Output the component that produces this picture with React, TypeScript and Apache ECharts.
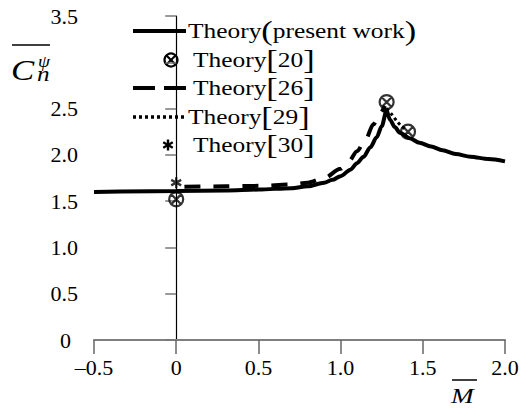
import React, { useEffect, useRef } from "react";
import * as echarts from "echarts";

// ---- data ----
const solidM = [-0.5, 0, 0.3, 0.5, 0.7, 0.8, 0.9, 0.95, 1.0, 1.06, 1.1, 1.14, 1.18, 1.22, 1.25, 1.28, 1.3, 1.33, 1.36, 1.42, 1.48, 1.55, 1.62, 1.7, 1.79, 1.9, 2.0];
const solidV = [1.6, 1.61, 1.615, 1.625, 1.64, 1.66, 1.7, 1.73, 1.77, 1.84, 1.91, 1.98, 2.08, 2.19, 2.31, 2.48, 2.38, 2.3, 2.24, 2.18, 2.13, 2.09, 2.05, 2.01, 1.98, 1.955, 1.93];

const dashedM = [0.05, 0.3, 0.5, 0.7, 0.8, 0.9, 1.0, 1.05, 1.1, 1.15, 1.2, 1.24, 1.27];
const dashedV = [1.655, 1.66, 1.665, 1.68, 1.7, 1.75, 1.85, 1.93, 2.04, 2.16, 2.33, 2.45, 2.53];

const dottedM = [1.28, 1.31, 1.34, 1.37, 1.4];
const dottedV = [2.5, 2.44, 2.37, 2.31, 2.27];

const ref20M = [0, 1.28, 1.41];
const ref20V = [1.52, 2.57, 2.25];

const ref30M = [0];
const ref30V = [1.7];

const xTickLabels = ["–0.5", "0", "0.5", "1.0", "1.5", "2.0"];
const yTickLabels = ["0", "0.5", "1.0", "1.5", "2.0", "2.5", "", "3.5"];

const legendNames = ["Theory(present work)", "Theory[20]", "Theory[26]", "Theory[29]", "Theory[30]"];

const zip = (a: number[], b: number[]) => a.map((v, i) => [v, b[i]]);

const FONT = "Liberation Serif";

const otimesPath =
  "path://M0,-7A7,7,0,1,1,0,7A7,7,0,1,1,0,-7ZM-4.9,-4.9L4.9,4.9M4.9,-4.9L-4.9,4.9";
const starPath = "path://M0,-5L0,5M-4.33,-2.5L4.33,2.5M-4.33,2.5L4.33,-2.5";

function legendText(x: number, y: number, name: string) {
  let rich = "";
  if (name.indexOf("(") >= 0) {
    const m = name.match(/^(.*)\((.*)\)$/)!;
    rich = `{t|${m[1]}}{b|(}{t|${m[2]}}{b|)}`;
  } else {
    const m = name.match(/^(.*)\[(.*)\]$/)!;
    rich = `{t|${m[1]}}{b|[}{t|${m[2]}}{b|]}`;
  }
  return {
    type: "text",
    x,
    y,
    scaleX: 1.27,
    style: {
      text: rich,
      fill: "#000",
      fontFamily: FONT,
      fontSize: 20,
      verticalAlign: "middle",
      align: "left",
      rich: {
        t: { fontSize: 20, fontFamily: FONT, fill: "#000" },
        b: { fontSize: 27, fontFamily: FONT, fill: "#000" },
      },
    },
  };
}

function star(cx: number, cy: number, r: number) {
  const a = r * 0.866;
  const b = r * 0.5;
  const st = { stroke: "#000", lineWidth: 2.4 };
  return [
    { type: "line", shape: { x1: cx, y1: cy - r, x2: cx, y2: cy + r }, style: st },
    { type: "line", shape: { x1: cx - a, y1: cy - b, x2: cx + a, y2: cy + b }, style: st },
    { type: "line", shape: { x1: cx - a, y1: cy + b, x2: cx + a, y2: cy - b }, style: st },
  ];
}

export default function App() {
  const ref = useRef<HTMLDivElement>(null);
  useEffect(() => {
    if (!ref.current) return;
    const chart = echarts.init(ref.current, undefined, { renderer: "svg" });
    const rows = [31, 60, 88, 117, 145];
    const graphic: any[] = [
      // legend
      { type: "line", shape: { x1: 133, y1: rows[0], x2: 186, y2: rows[0] }, style: { stroke: "#000", lineWidth: 4 } },
      legendText(188, rows[0], legendNames[0]),
      { type: "circle", shape: { cx: 171, cy: rows[1], r: 6.5 }, style: { stroke: "#000", lineWidth: 2.2, fill: "none" } },
      { type: "line", shape: { x1: 166.5, y1: rows[1] - 4.5, x2: 175.5, y2: rows[1] + 4.5 }, style: { stroke: "#000", lineWidth: 2.2 } },
      { type: "line", shape: { x1: 175.5, y1: rows[1] - 4.5, x2: 166.5, y2: rows[1] + 4.5 }, style: { stroke: "#000", lineWidth: 2.2 } },
      legendText(193, rows[1], legendNames[1]),
      { type: "line", shape: { x1: 133, y1: rows[2], x2: 186, y2: rows[2] }, style: { stroke: "#000", lineWidth: 4, lineDash: [22, 9] } },
      legendText(193, rows[2], legendNames[2]),
      { type: "line", shape: { x1: 133, y1: rows[3], x2: 187, y2: rows[3] }, style: { stroke: "#000", lineWidth: 3.5, lineDash: [3, 3] } },
      legendText(188, rows[3], legendNames[3]),
      ...star(168, rows[4], 5.5),
      legendText(193, rows[4], legendNames[4]),
      // y axis name
      { type: "line", shape: { x1: 12, y1: 45, x2: 50, y2: 45 }, style: { stroke: "#000", lineWidth: 1.5 } },
      { type: "text", x: 11, y: 70, scaleX: 1.2, style: { text: "C", fontFamily: FONT, fontStyle: "italic", fontSize: 29, fill: "#000", verticalAlign: "middle" } },
      { type: "text", x: 38, y: 62, scaleX: 1.2, style: { text: "ψ", fontFamily: FONT, fontStyle: "italic", fontSize: 16, fill: "#000", verticalAlign: "middle" } },
      { type: "text", x: 37, y: 74, scaleX: 1.2, style: { text: "n", fontFamily: FONT, fontStyle: "italic", fontSize: 21, fill: "#000", verticalAlign: "middle" } },
      // x axis name
      { type: "line", shape: { x1: 452, y1: 380, x2: 477, y2: 380 }, style: { stroke: "#000", lineWidth: 1.5 } },
      { type: "text", x: 451, y: 396, scaleX: 1.3, style: { text: "M", fontFamily: FONT, fontStyle: "italic", fontSize: 21, fill: "#000", verticalAlign: "middle" } },
    ];

    chart.setOption({
      animation: false,
      backgroundColor: "#fff",
      textStyle: { fontFamily: FONT },
      grid: { left: 94, right: 18, top: 16, bottom: 68, containLabel: false },
      xAxis: {
        type: "value",
        min: -0.5,
        max: 2.0,
        interval: 0.5,
        splitLine: { show: false },
        axisLine: { show: true, onZero: false, lineStyle: { color: "#7f7f7f", width: 2 } },
        axisTick: { show: true, inside: false, length: 14, lineStyle: { color: "#666", width: 1.5 } },
        axisLabel: {
          margin: 16,
          color: "#000",
          fontFamily: FONT,
          fontSize: 22,
          formatter: (v: number) => {
            const i = Math.round((v + 0.5) / 0.5);
            return xTickLabels[i] ?? "";
          },
        },
      },
      yAxis: {
        type: "value",
        min: 0,
        max: 3.5,
        interval: 0.5,
        splitLine: { show: false },
        axisLine: { show: true, lineStyle: { color: "#000", width: 1.2 } },
        axisTick: { show: true, inside: false, length: 11, lineStyle: { color: "#777", width: 1.5 } },
        axisLabel: {
          margin: 16,
          color: "#000",
          fontFamily: FONT,
          fontSize: 22,
          formatter: (v: number) => {
            const i = Math.round(v / 0.5);
            const s = yTickLabels[i] ?? "";
            return i === 0 ? "{z|" + s + "}" : s;
          },
          rich: { z: { padding: [0, 7, 0, 0], fontFamily: FONT, fontSize: 22, color: "#000" } },
        },
      },
      series: [
        {
          name: legendNames[0],
          type: "line",
          data: zip(solidM, solidV),
          showSymbol: false,
          smooth: 0.3,
          smoothMonotone: "x",
          lineStyle: { color: "#000", width: 4 },
          z: 3,
        },
        {
          name: legendNames[2],
          type: "line",
          data: zip(dashedM, dashedV),
          showSymbol: false,
          smooth: 0.3,
          smoothMonotone: "x",
          lineStyle: { color: "#000", width: 4, type: [16, 13] },
          z: 2,
        },
        {
          name: legendNames[3],
          type: "line",
          data: zip(dottedM, dottedV),
          showSymbol: false,
          smooth: 0.3,
          lineStyle: { color: "#000", width: 3, type: [3, 3] },
          z: 2,
        },
        {
          name: legendNames[1],
          type: "scatter",
          data: zip(ref20M, ref20V),
          symbol: otimesPath,
          symbolSize: 14,
          itemStyle: { color: "rgba(0,0,0,0)", borderColor: "#000", borderWidth: 2.2 },
          z: 4,
        },
        {
          name: legendNames[4],
          type: "scatter",
          data: zip(ref30M, ref30V),
          symbol: starPath,
          symbolSize: [10, 11],
          itemStyle: { color: "rgba(0,0,0,0)", borderColor: "#000", borderWidth: 2.4 },
          z: 4,
        },
      ],
      graphic,
    });
    return () => chart.dispose();
  }, []);
  return <div ref={ref} style={{ width: 523, height: 408, position: "absolute", left: 0, top: 0 }} />;
}
